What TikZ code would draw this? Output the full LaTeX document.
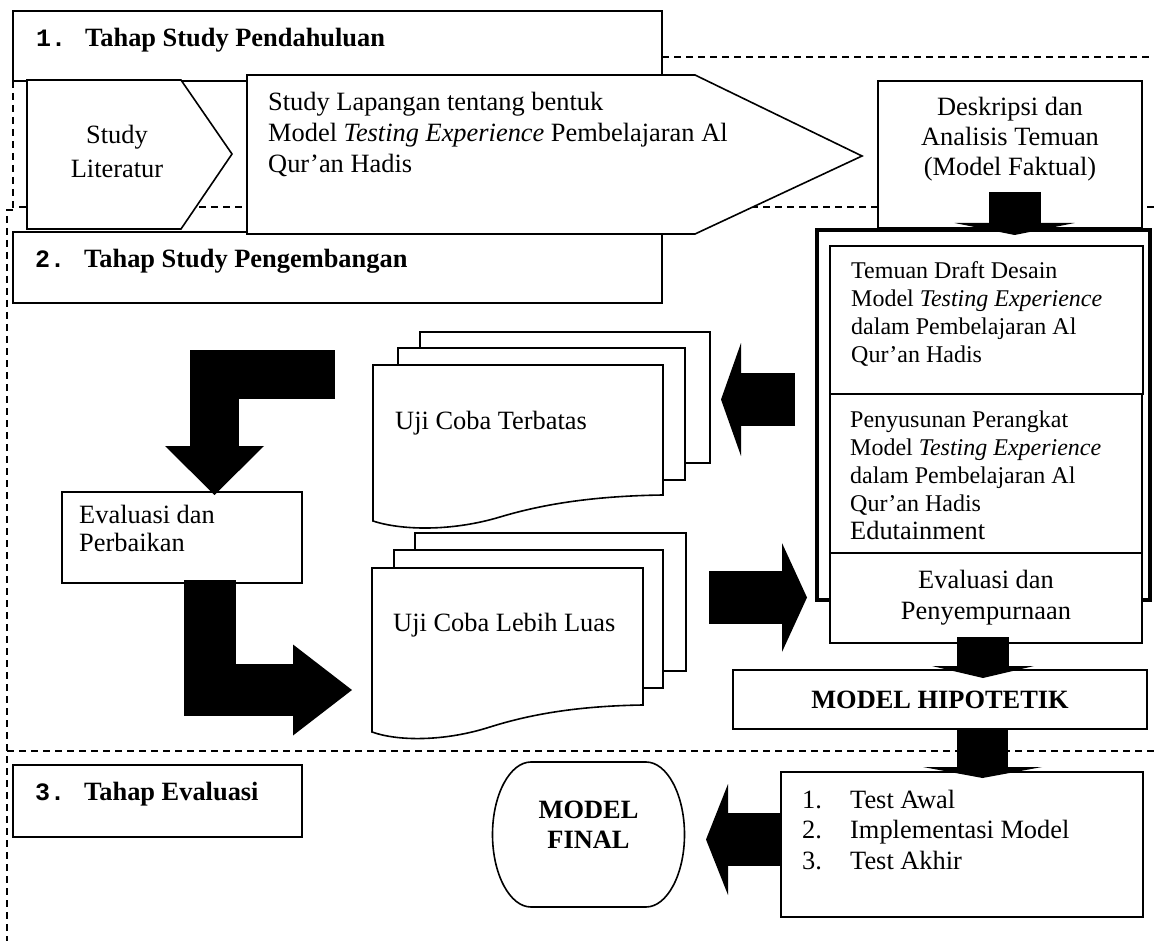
\documentclass[tikz,border=0pt]{standalone}
\usepackage{fontspec}
\setmainfont{Liberation Serif}
\newfontfamily\numfont{Liberation Mono}
\usepackage{tikz}
\usetikzlibrary{arrows.meta,positioning,calc}

\newcommand\bigtxt{\fontsize{26.4}{31}\selectfont}
\newcommand\smalltxt{\fontsize{24}{28}\selectfont}
\newcommand\stepno[1]{\makebox[49pt][l]{\numfont\fontsize{25}{28}\selectfont\bfseries #1}}

\tikzset{
  box/.style={draw,line width=1.6pt,fill=white,inner sep=0pt,outer sep=0pt,anchor=north west},
  sheet/.style={draw,line width=1.6pt,fill=white},
  txt/.style={inner sep=0pt,font=\bigtxt},
  headtxt/.style={inner sep=0pt,anchor=base west,font=\bigtxt\bfseries},
  phaseline/.style={line width=1.3pt,dash pattern=on 7pt off 5pt},
  fat/.style n args={3}{line width=#1,-{Triangle[length=#2,width=#3,line width=0pt]}}
}

\begin{document}
\begin{tikzpicture}[x=1pt,y=-1pt]
\useasboundingbox (0,0) rectangle (1154,941);
% dashed phase frames
\draw[phaseline] (662,57) -- (1154,57);
\draw[phaseline] (13,81) -- (13,207) -- (1154,207);
\draw[phaseline] (13,210) -- (7,210) -- (7,941);
\draw[phaseline] (7,751) -- (1154,751);

% 1. study pendahuluan
\node[box,minimum width=649pt,minimum height=70pt] (tahap1) at (13,11) {};
\node[headtxt] (tahap1 text) at ([shift={(23,36)}]tahap1.north west) {\stepno{1.}Tahap Study Pendahuluan};
\node[box,minimum width=649pt,minimum height=71pt] (tahap2) at (13,232) {};
\node[headtxt] (tahap2 text) at ([shift={(22,36)}]tahap2.north west) {\stepno{2.}Tahap Study Pengembangan};
\draw[sheet] (27,80) -- (181,80) -- (232,154) -- (181,229) -- (27,229) -- cycle;
\node[txt,align=center,font=\fontsize{26.4}{34}\selectfont] (literatur) at (117,151) {Study\\Literatur};
\draw[sheet] (247,75) -- (695,75) -- (862,156) -- (695,234) -- (247,234) -- cycle;
\node[txt,align=left,anchor=west] (lapangan) at (268,134.5) {Study Lapangan tentang bentuk\\Model \textit{Testing Experience} Pembelajaran Al\\Qur’an Hadis};
\node[box,minimum width=264pt,minimum height=147pt] (desk) at (878,81) {};
\node[txt,align=center,font=\fontsize{26.4}{30}\selectfont] (desk text) at ([shift={(132,58)}]desk.north west) {Deskripsi dan\\Analisis Temuan\\(Model Faktual)};

% 2. pengembangan
\node[draw,line width=4.5pt,inner sep=0pt,outer sep=0pt,anchor=north west,minimum width=333pt,minimum height=370pt] (devframe) at (817,230) {};
\node[box,minimum width=313pt,minimum height=148pt] (draft) at (830,246) {};
\node[txt,align=left,anchor=west,font=\smalltxt] (draft text) at ([shift={(21,68)}]draft.north west) {Temuan Draft Desain\\Model \textit{Testing Experience}\\dalam Pembelajaran Al\\Qur’an Hadis};
\node[box,minimum width=312pt,minimum height=159pt] (perangkat) at (830,394) {};
\node[txt,align=left,anchor=west,font=\smalltxt] (perangkat text) at ([shift={(20,81)}]perangkat.north west) {Penyusunan Perangkat\\Model \textit{Testing Experience}\\dalam Pembelajaran Al\\Qur’an Hadis\\{\fontsize{26.4}{29}\selectfont Edutainment}};
\node[box,minimum width=312pt,minimum height=90pt,align=center,font=\bigtxt] (sempurna) at (830,553) {Evaluasi dan\\Penyempurnaan};
\node[box,minimum width=414pt,minimum height=59pt,font=\bigtxt\bfseries] (hipotetik) at (733,670) {MODEL HIPOTETIK};

\node[box,minimum width=240pt,minimum height=91pt] (perbaikan) at (62,492) {};
\node[txt,align=left,anchor=west,font=\fontsize{26.4}{28}\selectfont] (perbaikan text) at ([shift={(17,36)}]perbaikan.north west) {Evaluasi dan\\Perbaikan};

% uji coba stacks
\foreach \x/\y/\xx/\yy in {420/332/710/463,398/348/685/480}{\draw[sheet] (\x,\y) rectangle (\xx,\yy);}
\draw[sheet] (373,365) -- (663,365) -- (663,495) .. controls (590,496) and (540,505) .. (500,517) .. controls (450,532) and (400,530) .. (373,521) -- cycle;
\node[txt,anchor=west] (terbatas) at (395,423) {Uji Coba Terbatas};
\coordinate (terbatas-r) at (710,399.5);
\foreach \x/\y/\xx/\yy in {415/533/686/671,394/550/663/688}{\draw[sheet] (\x,\y) rectangle (\xx,\yy);}
\draw[sheet] (372,568) -- (643,568) -- (643,705) .. controls (575,706) and (528,715) .. (490,727) .. controls (443,742) and (397,741) .. (372,732) -- cycle;
\node[txt,anchor=west] (luas) at (393,625) {Uji Coba Lebih Luas};
\coordinate (luas-r) at (686,597.5);
\coordinate (luas-l) at (372,690);

% 3. evaluasi
\node[box,line width=2.4pt,minimum width=289pt,minimum height=72pt] (tahap3) at (13,765) {};
\node[headtxt] (tahap3 text) at ([shift={(22,35)}]tahap3.north west) {\stepno{3.}Tahap Evaluasi};
\node[box,minimum width=362pt,minimum height=145pt] (ujimodel) at (781,772) {};
\node[txt,align=left,anchor=west,font=\fontsize{26.4}{30.5}\selectfont] (ujimodel text) at ([shift={(21,58)}]ujimodel.north west) {\makebox[48pt][l]{1.}Test Awal\\\makebox[48pt][l]{2.}Implementasi Model\\\makebox[48pt][l]{3.}Test Akhir};
\node[inner sep=0pt,outer sep=0pt,minimum width=192pt,minimum height=145pt] (final) at (588.5,834.5) {};
\draw[line width=1.6pt] (531,762) -- (646,762) .. controls (667,762) and (684.5,794.5) .. (684.5,834.5) .. controls (684.5,874.5) and (667,907) .. (646,907) -- (531,907) .. controls (510,907) and (492.5,874.5) .. (492.5,834.5) .. controls (492.5,794.5) and (510,762) .. (531,762) -- cycle;
\node[txt,align=center,font=\fontsize{26.4}{30}\selectfont\bfseries] (final text) at ([shift={(0,-9.5)}]final.center) {MODEL\\FINAL};

% block arrows
\draw[fat={52pt}{12pt}{120pt}] ([shift={(4.5,-36)}]desk.south) -- ([shift={(31,5)}]devframe.north);
\draw[fat={53pt}{20pt}{113pt}] ([shift={(-22,-15.5)}]devframe.west) -- ([shift={(11,0)}]terbatas-r);
\draw[fat={53pt}{25pt}{109pt}] ([shift={(23,0)}]luas-r) -- ([shift={(-23,-0.5)}]sempurna.west);
\draw[fat={52pt}{12pt}{102pt}] ([shift={(-3,-6)}]sempurna.south) -- ([shift={(43,8)}]hipotetik.north);
\draw[fat={51pt}{11pt}{119pt}] ([shift={(42.5,1)}]hipotetik.south) -- ([shift={(20.5,6)}]ujimodel.north);
\draw[fat={53pt}{22pt}{111pt}] ([shift={(0,-5)}]ujimodel.west) -- ([shift={(21.5,5)}]final.east);
\draw[fat={49pt}{49pt}{99pt}] ([shift={(153,-117.5)}]perbaikan.north) -| ([shift={(32.5,3)}]perbaikan.north);
\draw[fat={52pt}{59pt}{91pt}] ([shift={(28,-3)}]perbaikan.south) |- ([shift={(-20,0)}]luas-l);
\end{tikzpicture}
\end{document}
